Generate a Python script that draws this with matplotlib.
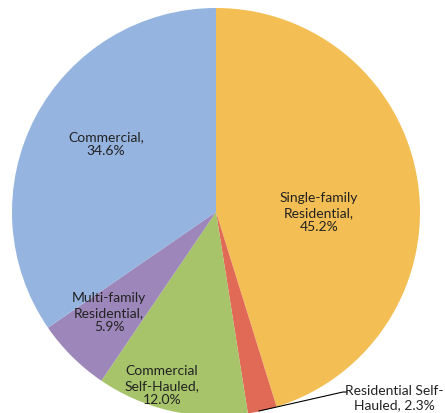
import matplotlib.pyplot as plt

# waste share by sector
labels = ['Single-family\nResidential,\n45.2%', 'Residential Self-\nHauled, 2.3%',
          'Commercial\nSelf-Hauled,\n12.0%', 'Multi-family\nResidential,\n5.9%',
          'Commercial,\n34.6%']
shares = [45.2, 2.3, 12.0, 5.9, 34.6]
colors = ['#F3BE53', '#E06A55', '#A7C46B', '#9D86B9', '#95B4DF']

# label centres in pixel coords of the 445x414 canvas
label_px = [(319, 213), (394, 398), (162, 386), (109, 313), (106, 144)]

W, H = 445, 414
cx, cy, r = 216, 213, 204

fig = plt.figure(figsize=(W / 100, H / 100), dpi=100)
ax = fig.add_axes([(cx - r) / W, (H - cy - r) / H, 2 * r / W, 2 * r / H])
ax.pie(shares, colors=colors, startangle=90, counterclock=False,
       radius=1, wedgeprops=dict(linewidth=0))
ax.set_xlim(-1, 1)
ax.set_ylim(-1, 1)
ax.set_aspect('equal')
ax.axis('off')

def to_data(px, py):
    return (px - cx) / r, (cy - py) / r

for lab, (px, py) in zip(labels, label_px):
    x, y = to_data(px, py)
    ax.text(x, y, lab, ha='center', va='center', fontsize=10,
            family='Lato', color='#222222', linespacing=1.25, clip_on=False)

# leader line for the small slice
pts = [to_data(259, 412), to_data(343, 393), to_data(347, 393)]
ax.plot([p[0] for p in pts], [p[1] for p in pts], color='black', lw=0.8, clip_on=False)

fig.savefig('out.png', dpi=100)
